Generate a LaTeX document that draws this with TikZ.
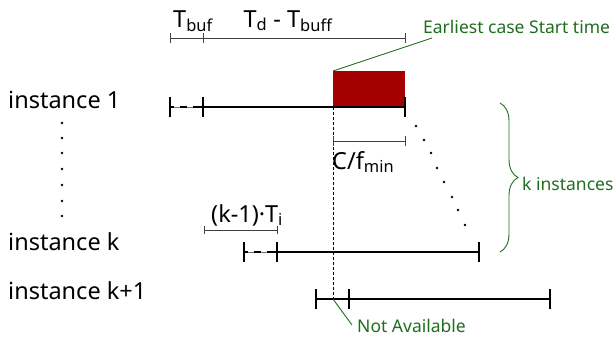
\documentclass[tikz,border=0pt]{standalone}
\usepackage{fontspec}
\setmainfont{Noto Sans}
\usetikzlibrary{decorations.pathreplacing}
\definecolor{grn}{RGB}{30,110,30}
\definecolor{dred}{RGB}{165,0,0}
\begin{document}
\begin{tikzpicture}[x=1pt,y=-1pt,
  lbl/.style={font=\fontsize{23.5}{26}\selectfont, inner sep=0pt},
  glbl/.style={font=\fontsize{17.5}{20}\selectfont, text=grn, inner sep=0pt},
  tl/.style={line width=2.2pt},
  tick/.style={line width=2.2pt},
  meas/.style={line width=0.9pt, draw=black!75},
  gline/.style={draw=grn, line width=0.9pt},
  thin/.style={line width=1pt, draw=black!55},
  dsh/.style={line width=2.2pt, dash pattern=on 4pt off 6pt on 7pt off 6pt on 10pt}
]
\useasboundingbox (0,0) rectangle (614,341);
% labels left
\node[lbl, anchor=base west] (i1) at (8,108) {instance 1};
\node[lbl, anchor=base west] (ik) at (8,250) {instance k};
\node[lbl, anchor=base west] (ik1) at (8,299) {instance k+1};
% vertical dots
\foreach \y/\n in {123/1,138/2,153/3,169/4,185/5,201/6,216/7}
  \fill (62,\y) circle (1.4pt) coordinate (vd\n);
% top measurement
\coordinate (m0) at (170,38); \coordinate (m1) at (203,38); \coordinate (m2) at (405,38);
\draw[meas] (m0) -- (m2);
\foreach \c in {m0,m1,m2} \draw[meas] ([yshift=-5pt]\c) -- ([yshift=5pt]\c);
\node[lbl, anchor=base] (tbuf) at (193,27) {T\textsubscript{buf}};
\node[lbl, anchor=base] (tdb) at (288,27) {T\textsubscript{d} - T\textsubscript{buff}};
% instance 1
\coordinate (a0) at (170,107); \coordinate (a1) at (203,107); \coordinate (a2) at (405,107);
\fill[dred] (333,71) rectangle (405,107);
\coordinate (rtl) at (333,71);
\draw[thin] (a0) -- (a1);
\draw[dsh] (a0) -- (a1);
\draw[tl] (a1) -- (a2);
\foreach \c in {a0,a1,a2} \draw[tick] ([yshift=-10pt]\c) -- ([yshift=10pt]\c);
% earliest label
\node[glbl, anchor=base west] (early) at (423,33) {Earliest case Start time};
\coordinate (ge) at (432,38);
\draw[gline] (rtl) -- (ge);
% dashed vertical
\coordinate (dv0) at (333,107); \coordinate (dv1) at (333,300);
\draw[line width=0.8pt, dash pattern=on 3pt off 2pt] (dv0) -- (dv1);
% C/fmin
\coordinate (c0) at (333,141); \coordinate (c1) at (405,141);
\draw[meas] (c0) -- (c1);
\foreach \c in {c0,c1} \draw[meas] ([yshift=-5pt]\c) -- ([yshift=5pt]\c);
\node[lbl, anchor=base west] (cf) at (332,169) {C/f\textsubscript{min}};
% diagonal dots
\foreach \x/\y in {416/126,424/140,431/153,437/168,444/182,452/197,458/210,465/225}
  \fill (\x,\y) circle (1.3pt);
% instance k
\coordinate (k0) at (244,252); \coordinate (k1) at (277,252); \coordinate (k2) at (479,252);
\draw[thin] (k0) -- (k1);
\draw[dsh] (k0) -- (k1);
\draw[tl] (k1) -- (k2);
\foreach \c in {k0,k1,k2} \draw[tick] ([yshift=-10pt]\c) -- ([yshift=10pt]\c);
\coordinate (t0) at (204,230); \coordinate (t1) at (277,230);
\draw[meas] (t0) -- (t1);
\foreach \c in {t0,t1} \draw[meas] ([yshift=-4pt]\c) -- ([yshift=4pt]\c);
\node[lbl, anchor=base west] (kt) at (211,222) {(k-1)·T\textsubscript{i}};
% instance k+1
\coordinate (p0) at (316,299); \coordinate (p1) at (349,299); \coordinate (p2) at (550,299);
\draw[line width=1.2pt] (p0) -- (p1);
\draw[tl] (p1) -- (p2);
\foreach \c in {p0,p1,p2} \draw[tick] ([yshift=-10pt]\c) -- ([yshift=10pt]\c);
% not available
\coordinate (na0) at (333,299); \coordinate (na1) at (352,325);
\draw[gline] (na0) -- (na1);
\node[glbl, anchor=base west] (na) at (357,332) {Not Available};
% brace
\coordinate (b0) at (500,103); \coordinate (b1) at (500,252);
\draw[gline, decorate, decoration={brace, amplitude=18pt}] (b0) -- (b1);
\node[glbl, anchor=west] (ki) at (522,184) {k instances};
\end{tikzpicture}
\end{document}
